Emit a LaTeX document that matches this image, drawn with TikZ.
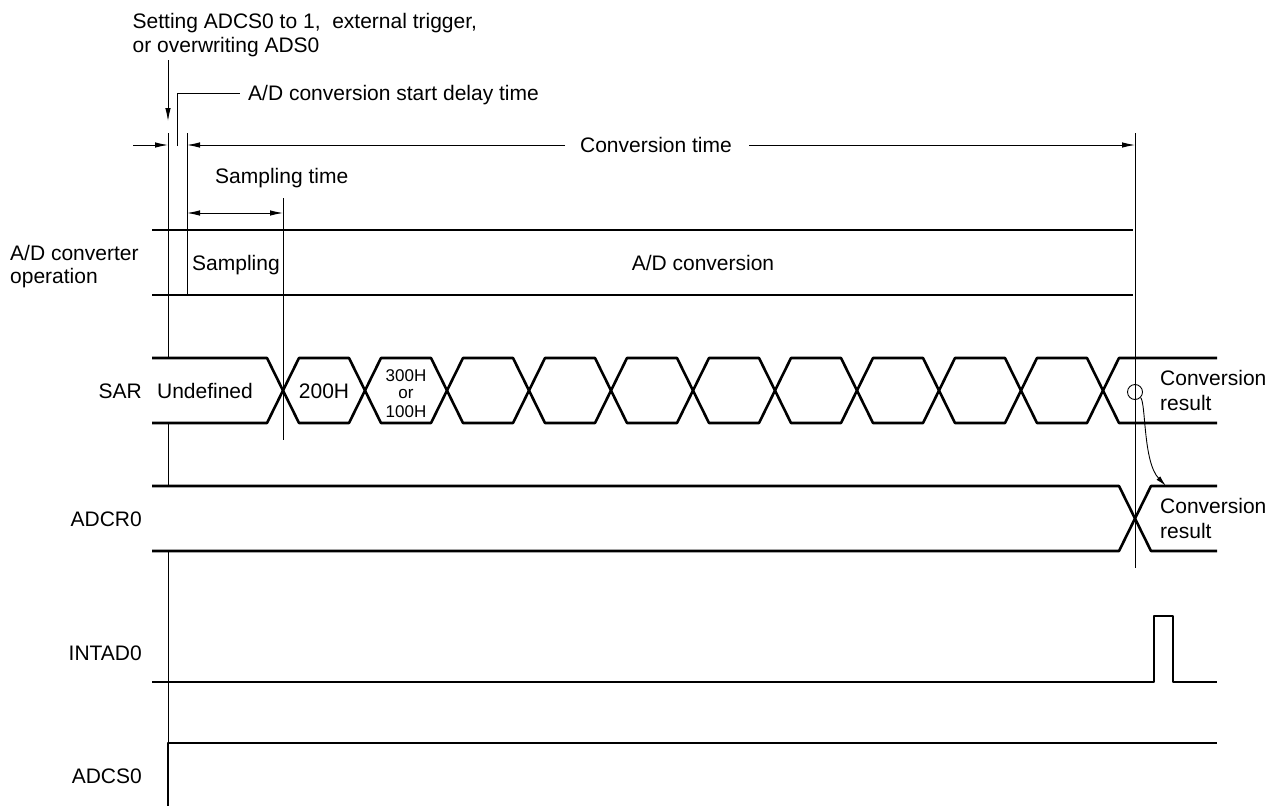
\documentclass[tikz,border=0pt]{standalone}
\usepackage{fontspec}
\setmainfont{Liberation Sans}
\usetikzlibrary{arrows.meta}
\begin{document}
\begin{tikzpicture}[x=1pt,y=-1pt,
  big/.style={font=\fontsize{21}{25}\selectfont, inner sep=0pt},
  tiny/.style={font=\fontsize{17}{18}\selectfont, inner sep=0pt},
  sig/.style={line width=2.6pt, line join=round},
  thinl/.style={line width=0.9pt},
  tipr/.style={-{Latex[length=13pt,width=5.5pt]}},
  tipb/.style={{Latex[length=13pt,width=5.5pt]}-{Latex[length=13pt,width=5.5pt]}},
  tips/.style={-{Latex[length=11pt,width=5pt]}},
]
\useasboundingbox (0,0) rectangle (1283,806);

% ---- top annotations
\node[big, anchor=base west] (trig1) at (132.5,28) {Setting ADCS0 to 1,~ external trigger,};
\node[big, anchor=base west] (trig2) at (132.5,52) {or overwriting ADS0};
\coordinate (trigTop) at (168,60);
\coordinate (trigTip) at (168,121);
\draw[thinl,tipr] (trigTop) -- (trigTip);

\node[big, anchor=base west] (delay) at (248,100.5) {A/D conversion start delay time};
\coordinate (dlA) at (177,146);
\coordinate (dlB) at (177,93);
\coordinate (dlC) at (240,93);
\draw[thinl] (dlA) -- (dlB) -- (dlC);

% ---- conversion time
\node[big, anchor=base] (ctime) at (656,152.5) {Conversion time};
\coordinate (ctL0) at (133,145);
\coordinate (ctL1) at (168,145);
\coordinate (ctM0) at (565,145);
\coordinate (ctM1) at (187,145);
\coordinate (ctR0) at (749,145);
\coordinate (ctR1) at (1135,145);
\draw[thinl,tipr] (ctL0) -- (ctL1);
\draw[thinl,tipr] (ctM0) -- (ctM1);
\draw[thinl,tipr] (ctR0) -- (ctR1);

% ---- sampling time
\node[big, anchor=base west] (stime) at (215,183) {Sampling time};
\coordinate (stL) at (187,213);
\coordinate (stR) at (283,213);
\draw[thinl,tipb] (stL) -- (stR);

% ---- vertical reference lines
\draw[thinl] (168,133) -- (168,358);
\draw[thinl] (168,423) -- (168,486);
\draw[thinl] (168,551) -- (168,743);
\draw[thinl] (187,133) -- (187,295);
\draw[thinl] (283,198) -- (283,440);
\draw[thinl] (1135,133) -- (1135,568);

% ---- signal labels
\node[big, anchor=base west] (lop1) at (10,260) {A/D converter};
\node[big, anchor=base west] (lop2) at (10,283) {operation};
\node[big, anchor=base east] (lsar) at (142,398) {SAR};
\node[big, anchor=base east] (ladcr) at (142,526) {ADCR0};
\node[big, anchor=base east] (lint) at (142,660) {INTAD0};
\node[big, anchor=base east] (ladcs) at (142,783) {ADCS0};

% ---- A/D converter operation
\draw[sig] (152,230) -- (1133,230);
\draw[sig] (152,295) -- (1133,295);
\node[big, anchor=base west] (samp) at (192,270) {Sampling};
\node[big, anchor=base] (adconv) at (703,270) {A/D conversion};

% ---- SAR
\draw[sig] (152,358) \foreach \c in {283,365,...,1103}{ -- (\c-16,358) -- (\c,390.5) -- (\c+16,358)} -- (1217,358);
\draw[sig] (152,423) \foreach \c in {283,365,...,1103}{ -- (\c-16,423) -- (\c,390.5) -- (\c+16,423)} -- (1217,423);
\node[big, anchor=base] (undef) at (205,398) {Undefined};
\node[big, anchor=base] (h200) at (324,398) {200H};
\node[tiny, anchor=base] (h300) at (406,381) {300H};
\node[tiny, anchor=base] (hor) at (406,398.5) {or};
\node[tiny, anchor=base] (h100) at (406,417) {100H};
\node[big, anchor=base west] (cr1a) at (1160,385) {Conversion};
\node[big, anchor=base west] (cr1b) at (1160,410) {result};

% ---- ADCR0
\draw[sig] (152,486) -- (1119,486) -- (1135,518.5) -- (1151,486) -- (1217,486);
\draw[sig] (152,551) -- (1119,551) -- (1135,518.5) -- (1151,551) -- (1217,551);
\node[big, anchor=base west] (cr2a) at (1160,513) {Conversion};
\node[big, anchor=base west] (cr2b) at (1160,538) {result};

% ---- transfer arrow
\node[circle, draw, line width=0.9pt, minimum size=15pt, inner sep=0pt] (circ) at (1135,392) {};
\coordinate (xfer) at (1166,486);
\draw[thinl,tips] (circ.south east) .. controls (1146,403) and (1143,462) .. (xfer);

% ---- INTAD0
\draw[sig] (152,682) -- (1154,682) -- (1154,616) -- (1173,616) -- (1173,682) -- (1217,682);

% ---- ADCS0
\draw[sig] (168,806) -- (168,743) -- (1217,743);
\end{tikzpicture}
\end{document}
